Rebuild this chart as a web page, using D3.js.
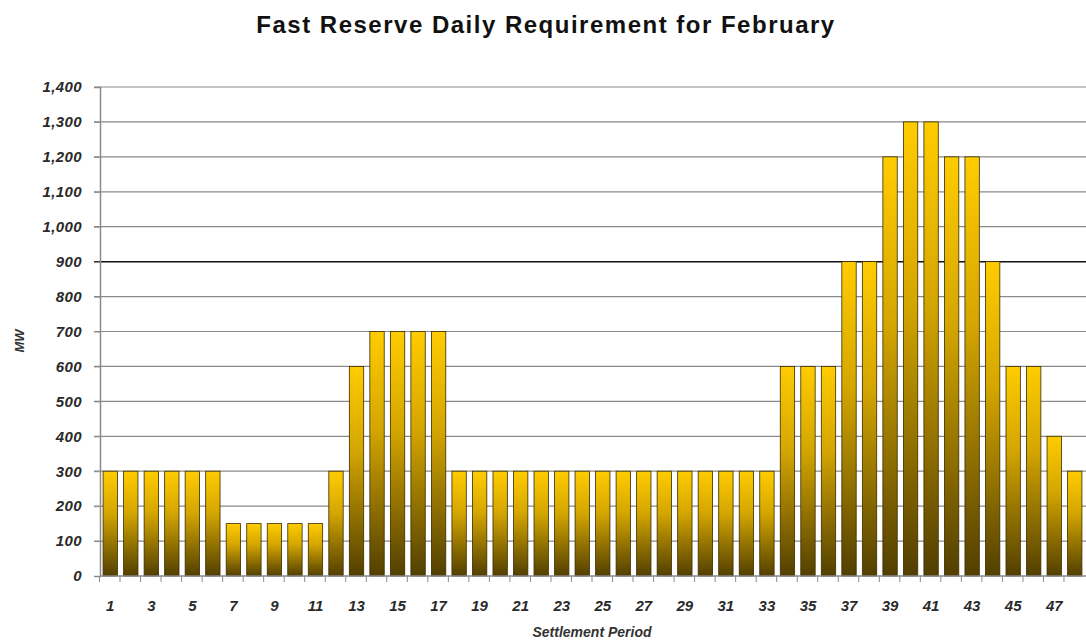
<!DOCTYPE html>
<html><head><meta charset="utf-8">
<script src="https://cdn.jsdelivr.net/npm/d3@7"></script>
<style>body{margin:0;background:#fff;} text{font-family:"Liberation Sans",Arial,sans-serif;}</style>
</head><body>
<svg id="c" width="1086" height="642"></svg>
<script>
const periods = d3.range(1, 49);
const values = [300,300,300,300,300,300,150,150,150,150,150,300,600,700,700,700,700,
  300,300,300,300,300,300,300,300,300,300,300,300,300,300,300,300,
  600,600,600,900,900,1200,1300,1300,1200,1200,900,600,600,400,300];
const yTicks = [0,100,200,300,400,500,600,700,800,900,1000,1100,1200,1300,1400];
const title = "Fast Reserve Daily Requirement for February";
const xTitle = "Settlement Period";
const yTitle = "MW";

const svg = d3.select("#c");
const m = {l:100, r:1, t:87, b:66};
const W = 1086, H = 642;
const x = d3.scaleBand().domain(periods).range([m.l, W - m.r]).paddingInner(0.3).paddingOuter(0.15);
const y = d3.scaleLinear().domain([0,1400]).range([H - m.b, m.t]);

const defs = svg.append("defs");
const g = defs.append("linearGradient").attr("id","bg").attr("x1",0).attr("y1",0).attr("x2",0).attr("y2",1);
g.append("stop").attr("offset","0%").attr("stop-color","#ffcc00");
g.append("stop").attr("offset","40%").attr("stop-color","#d4a600");
g.append("stop").attr("offset","100%").attr("stop-color","#523f00");

// gridlines
svg.append("g").selectAll("line").data(yTicks.filter(d=>d>0)).join("line")
  .attr("x1", m.l - 6).attr("x2", W).attr("y1", d=>y(d)).attr("y2", d=>y(d))
  .attr("stroke", d=> d===900 ? "#111" : "#8a8a8a").attr("stroke-width", d=> d===900?1.5:1.2);

// bars
svg.append("g").selectAll("rect").data(periods).join("rect")
  .attr("x", d=>x(d)).attr("width", x.bandwidth())
  .attr("y", (d,i)=>y(values[i])).attr("height", (d,i)=>y(0)-y(values[i]))
  .attr("fill","url(#bg)").attr("stroke","#3a2c00").attr("stroke-width",0.8);

// y axis
const yAx = svg.append("g").attr("transform",`translate(${m.l},0)`)
  .call(d3.axisLeft(y).tickValues(yTicks).tickSize(6).tickPadding(12).tickFormat(d3.format(",")));
yAx.select(".domain").attr("stroke","#8a8a8a").attr("stroke-width",1.5);
yAx.selectAll(".tick line").attr("stroke","#8a8a8a");
yAx.selectAll("text").attr("font-size",15).attr("font-weight","bold").attr("font-style","italic")
  .attr("letter-spacing",0.4).attr("fill","#2a2a2a");

// x axis
const base = y(0);
svg.append("line").attr("x1",m.l).attr("x2",W).attr("y1",base).attr("y2",base).attr("stroke","#8a8a8a").attr("stroke-width",1.5);
const step = x.step();
svg.append("g").selectAll("line").data(periods).join("line")
  .attr("x1", d=>x(d) - step*0.15 - 0.5).attr("x2", d=>x(d) - step*0.15 - 0.5)
  .attr("y1", base).attr("y2", base+6).attr("stroke","#8a8a8a");
svg.append("g").selectAll("text").data(periods.filter(d=>d%2===1)).join("text")
  .attr("x", d=>x(d)+x.bandwidth()/2).attr("y", base+35)
  .attr("text-anchor","middle").attr("font-size",15).attr("font-weight","bold").attr("font-style","italic")
  .attr("fill","#2a2a2a").text(d=>d);

svg.append("text").attr("x",546).attr("y",33).attr("text-anchor","middle")
  .attr("font-size",24).attr("font-weight","bold").attr("letter-spacing",1.5).attr("fill","#111").text(title);
svg.append("text").attr("x",592).attr("y",637).attr("text-anchor","middle")
  .attr("font-size",14).attr("font-style","italic").attr("font-weight","bold").attr("fill","#333").text(xTitle);
svg.append("text").attr("transform","translate(24,341) rotate(-90)").attr("text-anchor","middle")
  .attr("font-size",13).attr("font-style","italic").attr("font-weight","bold").attr("fill","#333").text(yTitle);
</script>
</body></html>
